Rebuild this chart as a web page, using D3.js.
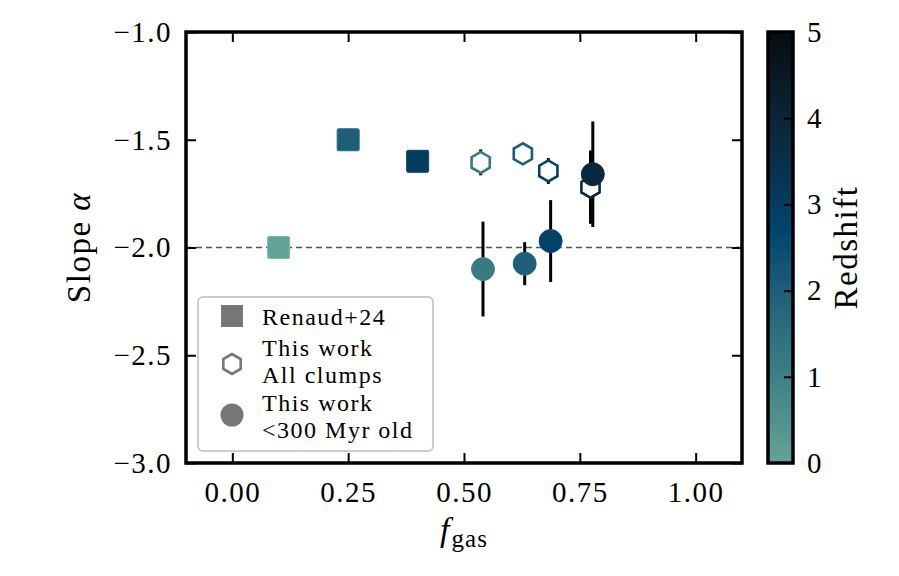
<!DOCTYPE html>
<html>
<head>
<meta charset="utf-8">
<script src="https://cdn.jsdelivr.net/npm/d3@7"></script>
<style>
  body { margin: 0; background: #fff; }
  text { font-family: "Liberation Serif", "DejaVu Serif", serif; fill: #000; }
</style>
</head>
<body>
<div id="chart"></div>
<script>
// Slope alpha vs gas fraction, coloured by redshift

// Renaud+24 (squares)
const renaudFgas = [0.10, 0.25, 0.40];
const renaudSlope = [-2.0, -1.5, -1.6];
const renaudZ = [0.0, 2.0, 3.0];

// This work, all clumps (open hexagons)
const allFgas = [0.536, 0.627, 0.682, 0.773];
const allSlope = [-1.605, -1.565, -1.645, -1.72];
const allErr = [0.06, 0.02, 0.06, 0.17];
const allZ = [1.2, 2.0, 2.8, 3.8];

// This work, <300 Myr old (circles)
const youngFgas = [0.541, 0.631, 0.687, 0.778];
const youngSlope = [-2.10, -2.075, -1.97, -1.66];
const youngErr = [0.22, 0.10, 0.19, 0.245];
const youngZ = [1.2, 2.0, 2.8, 3.8];

const xTicks = [0, 0.25, 0.5, 0.75, 1.0];
const yTicks = [-1.0, -1.5, -2.0, -2.5, -3.0];
const zTicks = [0, 1, 2, 3, 4, 5];

// colormap stops (redshift -> colour)
const cmapZ = [0, 1, 2, 2.7, 3.3, 4, 5];
const cmapColors = ["#64a398", "#3e8084", "#1f5e78", "#02446d", "#073452", "#0b2536", "#060c10"];

const width = 899,
    height = 576,
    margin = ({ top: 32, right: 157, bottom: 113, left: 186 });

const svg = d3.select("#chart")
  .append("svg")
  .attr("width", width)
  .attr("height", height);

const x = d3.scaleLinear()
  .domain([-0.1, 1.1])
  .range([margin.left, width - margin.right]);

const y = d3.scaleLinear()
  .domain([-3, -1])
  .range([height - margin.bottom, margin.top]);

const color = d3.scaleLinear()
  .domain(cmapZ)
  .range(cmapColors)
  .interpolate(d3.interpolateRgb);

const fmt1 = d => d3.format(".1f")(d).replace("-", "\u2212");
const fmt2 = d3.format(".2f");

// dashed reference line
svg.append("line")
  .attr("x1", x(-0.1)).attr("x2", x(1.1))
  .attr("y1", y(-2)).attr("y2", y(-2))
  .attr("stroke", "#555")
  .attr("stroke-width", 1.4)
  .attr("stroke-dasharray", "6,4");

// axes (ticks inward)
const axisStyle = g => {
  g.select(".domain").remove();
  g.selectAll(".tick line").attr("stroke", "#000").attr("stroke-width", 2);
  g.selectAll(".tick text").attr("font-size", 29).attr("letter-spacing", 1.5);
};

svg.append("g")
  .attr("transform", `translate(0,${height - margin.bottom})`)
  .call(d3.axisBottom(x).tickValues(xTicks).tickFormat(fmt2).tickSizeInner(-10).tickPadding(18))
  .call(axisStyle);

svg.append("g")
  .attr("transform", `translate(0,${margin.top})`)
  .call(d3.axisTop(x).tickValues(xTicks).tickFormat("").tickSizeInner(-10))
  .call(axisStyle);

svg.append("g")
  .attr("transform", `translate(${margin.left},0)`)
  .call(d3.axisLeft(y).tickValues(yTicks).tickFormat(fmt1).tickSizeInner(-10).tickPadding(14))
  .call(axisStyle);

svg.append("g")
  .attr("transform", `translate(${width - margin.right},0)`)
  .call(d3.axisRight(y).tickValues(yTicks).tickFormat("").tickSizeInner(-10))
  .call(axisStyle);

// error bars
const errData = allFgas.map((f, i) => ({ f, s: allSlope[i], e: allErr[i] }))
  .concat(youngFgas.map((f, i) => ({ f, s: youngSlope[i], e: youngErr[i] })));

svg.append("g")
  .selectAll("line")
  .data(errData)
  .join("line")
  .attr("x1", d => x(d.f)).attr("x2", d => x(d.f))
  .attr("y1", d => y(d.s - d.e)).attr("y2", d => y(d.s + d.e))
  .attr("stroke", "#000")
  .attr("stroke-width", 3);

// squares
const sq = 22;
svg.append("g")
  .selectAll("rect")
  .data(renaudFgas.map((f, i) => ({ f, s: renaudSlope[i], z: renaudZ[i] })))
  .join("rect")
  .attr("x", d => x(d.f) - sq / 2)
  .attr("y", d => y(d.s) - sq / 2)
  .attr("width", sq).attr("height", sq)
  .attr("rx", 1.5)
  .attr("fill", d => color(d.z))
  .attr("stroke", d => d3.color(color(d.z)).brighter(0.4))
  .attr("stroke-width", 1);

// hexagon path, pointy top
const hexPath = r => d3.line()(d3.range(6).map(k => {
  const a = Math.PI / 2 + k * Math.PI / 3;
  return [r * Math.cos(a), -r * Math.sin(a)];
})) + "Z";

svg.append("g")
  .selectAll("path")
  .data(allFgas.map((f, i) => ({ f, s: allSlope[i], z: allZ[i] })))
  .join("path")
  .attr("d", hexPath(10.5))
  .attr("transform", d => `translate(${x(d.f)},${y(d.s)})`)
  .attr("fill", "#fff")
  .attr("stroke", d => color(d.z))
  .attr("stroke-width", 2.6);

// circles
svg.append("g")
  .selectAll("circle")
  .data(youngFgas.map((f, i) => ({ f, s: youngSlope[i], z: youngZ[i] })))
  .join("circle")
  .attr("cx", d => x(d.f))
  .attr("cy", d => y(d.s))
  .attr("r", 11.5)
  .attr("fill", d => color(d.z))
  .attr("stroke", d => d3.color(color(d.z)).brighter(0.3))
  .attr("stroke-width", 1);

// frame
svg.append("rect")
  .attr("x", margin.left).attr("y", margin.top)
  .attr("width", width - margin.left - margin.right)
  .attr("height", height - margin.top - margin.bottom)
  .attr("fill", "none")
  .attr("stroke", "#000")
  .attr("stroke-width", 3.5);

// legend
const lg = svg.append("g").attr("transform", "translate(198,297)");
lg.append("rect")
  .attr("width", 235).attr("height", 154)
  .attr("rx", 5)
  .attr("fill", "#fff").attr("fill-opacity", 0.85)
  .attr("stroke", "#cccccc").attr("stroke-width", 2);

const legendGray = "#777";
lg.append("rect").attr("x", 34 - 11).attr("y", 19 - 11).attr("width", 22).attr("height", 22).attr("fill", legendGray);
lg.append("path").attr("d", hexPath(10)).attr("transform", "translate(34,67)")
  .attr("fill", "#fff").attr("stroke", legendGray).attr("stroke-width", 2.6);
lg.append("circle").attr("cx", 34).attr("cy", 118).attr("r", 11.5).attr("fill", legendGray);

const legendLines = [
  ["Renaud+24", 28],
  ["This work", 59], ["All clumps", 86],
  ["This work", 114], ["<300 Myr old", 141]
];
lg.selectAll("text.lab")
  .data(legendLines)
  .join("text")
  .attr("class", "lab")
  .attr("x", 64)
  .attr("y", d => d[1])
  .attr("font-size", 24)
  .attr("letter-spacing", 1.5)
  .text(d => d[0]);

// axis labels
svg.append("text")
  .attr("transform", `translate(90,${(margin.top + height - margin.bottom) / 2}) rotate(-90)`)
  .attr("text-anchor", "middle")
  .attr("font-size", 33)
  .attr("letter-spacing", 1.5)
  .html('Slope <tspan font-style="italic">α</tspan>');

const xl = svg.append("text")
  .attr("x", (margin.left + width - margin.right) / 2)
  .attr("y", 541)
  .attr("text-anchor", "middle")
  .attr("font-size", 34);
xl.append("tspan").attr("font-style", "italic").text("f");
xl.append("tspan").attr("font-size", 25).attr("dy", 6).attr("dx", 2).attr("letter-spacing", 1).text("gas");

// colorbar
const cbX = 768, cbW = 25;
const zScale = d3.scaleLinear().domain([0, 5]).range([height - margin.bottom, margin.top]);

const defs = svg.append("defs");
const grad = defs.append("linearGradient")
  .attr("id", "cbgrad")
  .attr("x1", 0).attr("x2", 0).attr("y1", 1).attr("y2", 0);
grad.selectAll("stop")
  .data(cmapZ)
  .join("stop")
  .attr("offset", d => d / 5)
  .attr("stop-color", d => color(d));

svg.append("rect")
  .attr("x", cbX).attr("y", margin.top)
  .attr("width", cbW).attr("height", height - margin.top - margin.bottom)
  .attr("fill", "url(#cbgrad)")
  .attr("stroke", "#000")
  .attr("stroke-width", 3.5);

const cbAxis = svg.append("g")
  .attr("transform", `translate(${cbX + cbW},0)`)
  .call(d3.axisRight(zScale).tickValues(zTicks).tickFormat(d3.format("d")).tickSizeInner(-9).tickPadding(14))
  .call(axisStyle);
cbAxis.selectAll(".tick line").filter(d => d === 0 || d === 5).remove();

svg.append("text")
  .attr("transform", `translate(857,${(margin.top + height - margin.bottom) / 2}) rotate(-90)`)
  .attr("text-anchor", "middle")
  .attr("font-size", 33)
  .attr("letter-spacing", 1.5)
  .text("Redshift");
</script>
</body>
</html>
